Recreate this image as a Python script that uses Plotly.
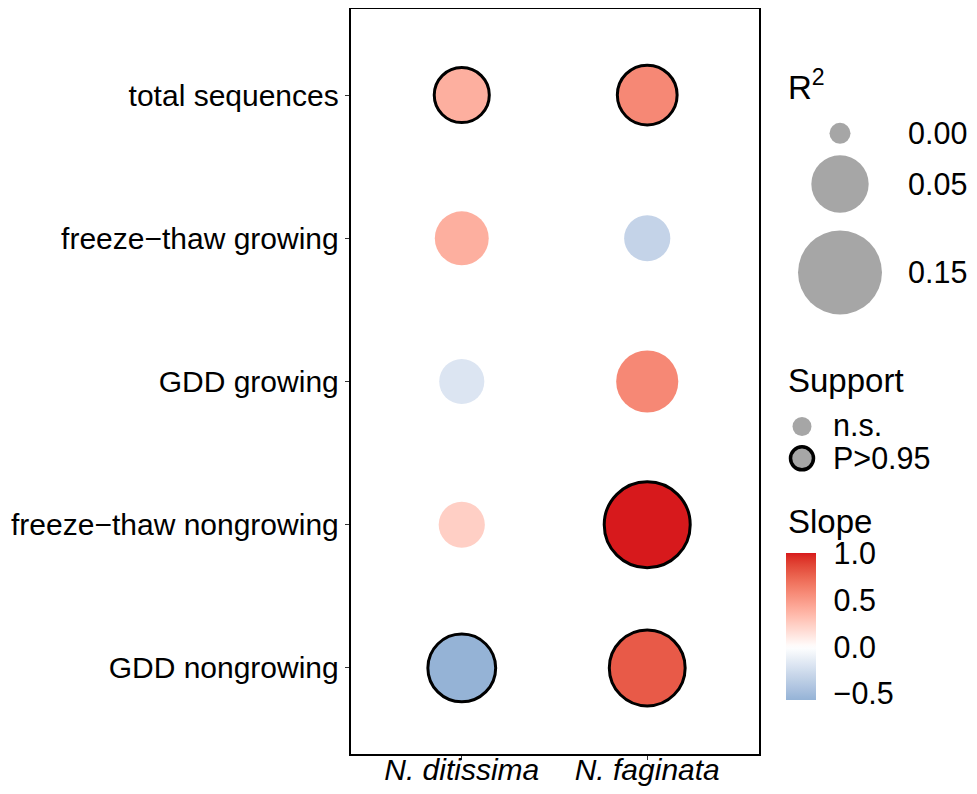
import plotly.graph_objects as go
import numpy as np

# ---------------- data ----------------
variables = ["total sequences", "freeze\u2212thaw growing", "GDD growing",
             "freeze\u2212thaw nongrowing", "GDD nongrowing"]
species = ["N. ditissima", "N. faginata"]

slope_ditissima = [0.40, 0.40, -0.19, 0.24, -0.565]
slope_faginata = [0.59, -0.32, 0.59, 1.01, 0.80]
r2_ditissima = [0.044, 0.041, 0.022, 0.024, 0.083]
r2_faginata = [0.057, 0.024, 0.064, 0.160, 0.114]
sig_ditissima = [True, False, False, False, True]
sig_faginata = [True, False, False, True, True]

r2_breaks = [0.00, 0.05, 0.15]
r2_break_labels = ["0.00", "0.05", "0.15"]
support_labels = ["n.s.", "P>0.95"]
slope_ticks = [-0.5, 0.0, 0.5, 1.0]
slope_tick_labels = ["\u22120.5", "0.0", "0.5", "1.0"]

# ---------------- helpers ----------------
FONT = "Liberation Sans, Arial, Helvetica, sans-serif"
FS_AXIS = 30
FS_LEG = 30.5
FS_TITLE = 33
WIN_W, WIN_H = 977, 794
OFF = 8                      # default page body margin
W, H = WIN_W - OFF, WIN_H - 2 * OFF
S = WIN_H / (H + 24) * 0.993  # vertical fit factor of the page photo


def PX(x):
    return min(max((x - OFF) / W, 0), 1)


def PY(y):
    return min(max(1 - (y / S - OFF) / H, 0), 1)


all_r2 = r2_ditissima + r2_faginata
r2_max = max(all_r2)
DMIN, DMAX = 21.0, 86.0


def size_of(v):
    return DMIN + (DMAX - DMIN) * np.sqrt(max(v, 0) / r2_max)


def hex2rgb(h):
    h = h.lstrip("#")
    return [int(h[i:i + 2], 16) / 255 for i in (0, 2, 4)]


def srgb2lin(c):
    return c / 12.92 if c <= 0.04045 else ((c + 0.055) / 1.055) ** 2.4


def lin2srgb(c):
    c = min(max(c, 0), 1)
    return 12.92 * c if c <= 0.0031308 else 1.055 * c ** (1 / 2.4) - 0.055


WP = (0.95047, 1.0, 1.08883)


def rgb2lab(rgb):
    r, g, b = [srgb2lin(c) for c in rgb]
    X = 0.4124 * r + 0.3576 * g + 0.1805 * b
    Y = 0.2126 * r + 0.7152 * g + 0.0722 * b
    Z = 0.0193 * r + 0.1192 * g + 0.9505 * b
    def f(t):
        return t ** (1 / 3) if t > 0.008856 else 7.787 * t + 16 / 116
    fx, fy, fz = f(X / WP[0]), f(Y / WP[1]), f(Z / WP[2])
    return (116 * fy - 16, 500 * (fx - fy), 200 * (fy - fz))


def lab2rgb(lab):
    L, a, b = lab
    fy = (L + 16) / 116
    fx = fy + a / 500
    fz = fy - b / 200
    def finv(t):
        return t ** 3 if t ** 3 > 0.008856 else (t - 16 / 116) / 7.787
    X, Y, Z = finv(fx) * WP[0], finv(fy) * WP[1], finv(fz) * WP[2]
    r = 3.2406 * X - 1.5372 * Y - 0.4986 * Z
    g = -0.9689 * X + 1.8758 * Y + 0.0415 * Z
    bb = 0.0557 * X - 0.2040 * Y + 1.0570 * Z
    return [lin2srgb(c) for c in (r, g, bb)]


LOW, MID, HIGH = "#2c7bb6", "#ffffff", "#d7191c"
labL, labM, labH = rgb2lab(hex2rgb(LOW)), rgb2lab(hex2rgb(MID)), rgb2lab(hex2rgb(HIGH))

all_slopes = slope_ditissima + slope_faginata
cmin, cmax = min(all_slopes), max(all_slopes)
ext = max(abs(cmin), abs(cmax))


def color_at(v):
    r = v / ext / 2 + 0.5
    if r <= 0.5:
        t = r / 0.5
        lab = [labL[i] + (labM[i] - labL[i]) * t for i in range(3)]
    else:
        t = (r - 0.5) / 0.5
        lab = [labM[i] + (labH[i] - labM[i]) * t for i in range(3)]
    rgb = lab2rgb(lab)
    return "rgb(%d,%d,%d)" % tuple(int(round(c * 255)) for c in rgb)


colorscale = []
N = 40
for i in range(N + 1):
    t = i / N
    colorscale.append([t, color_at(cmin + t * (cmax - cmin))])

# ---------------- figure ----------------
fig = go.Figure()

x_vals, y_vals, c_vals, s_vals, lw_vals = [], [], [], [], []
for j, (sl, r2, sg) in enumerate([(slope_ditissima, r2_ditissima, sig_ditissima),
                                   (slope_faginata, r2_faginata, sig_faginata)]):
    for i, var in enumerate(variables):
        x_vals.append(species[j])
        y_vals.append(var)
        c_vals.append(sl[i])
        s_vals.append(size_of(r2[i]))
        lw_vals.append(3 if sg[i] else 0)

px_left, px_right, px_top, px_bottom = 350.5, 758.5, 8, 757.5
cb_top, cb_bottom = 558, 703
LEG_X0 = 770

fig.add_trace(go.Scatter(
    x=x_vals, y=y_vals, mode="markers", showlegend=False, hoverinfo="skip",
    marker=dict(
        size=s_vals, sizemode="diameter", color=c_vals, colorscale=colorscale,
        cmin=cmin, cmax=cmax, opacity=1,
        line=dict(color="black", width=lw_vals),
        colorbar=dict(
            thickness=30, thicknessmode="pixels",
            len=(cb_bottom - cb_top) / S, lenmode="pixels",
            x=PX(786), xanchor="left", xpad=0,
            y=PY(cb_bottom), yanchor="bottom", ypad=0,
            outlinewidth=0, tickvals=slope_ticks, ticktext=slope_tick_labels,
            ticks="outside", ticklen=12, tickcolor="white", tickwidth=1,
            tickfont=dict(family=FONT, size=FS_LEG, color="black"),
        ),
    ),
))

# legend keys drawn in a small pixel-scaled subplot on the right
leg_y = [133, 184, 273]
fig.add_trace(go.Scatter(
    x=[840] * len(r2_breaks), y=leg_y, xaxis="x2", yaxis="y2", mode="markers",
    marker=dict(size=[size_of(v) for v in r2_breaks], color="#a6a6a6", opacity=1,
                line=dict(width=0)),
    showlegend=False, hoverinfo="skip", cliponaxis=False,
))
fig.add_trace(go.Scatter(
    x=[802, 802], y=[428, 460], xaxis="x2", yaxis="y2", mode="markers",
    marker=dict(size=[19, 23], color="#a6a6a6", opacity=1,
                line=dict(color="black", width=[0, 3.5])),
    showlegend=False, hoverinfo="skip", cliponaxis=False,
))


def ann(text, xpx, ypx, size):
    return dict(text=text, x=PX(xpx), y=PY(ypx), xref="paper", yref="paper",
                xanchor="left", yanchor="middle", showarrow=False,
                font=dict(family=FONT, size=size, color="black"))


annotations = [
    ann("R<sup>2</sup>", 786, 84, FS_TITLE),
    ann("Support", 786, 382, FS_TITLE),
    ann("Slope", 786, 524, FS_TITLE),
]
for lab, yy in zip(r2_break_labels, leg_y):
    annotations.append(ann(lab, 906, yy, FS_LEG))
for lab, yy in zip(support_labels, [427, 460]):
    annotations.append(ann(lab, 831, yy, FS_LEG))

# white dashes inside the colour bar at the tick values (as in the reference)
cb_span = cb_bottom - cb_top
shapes = []
for tv in slope_ticks:
    ypx = cb_bottom - (tv - cmin) / (cmax - cmin) * cb_span
    for x0, x1 in ((786, 791), (811, 816)):
        shapes.append(dict(type="line", xref="paper", yref="paper",
                           x0=PX(x0), x1=PX(x1), y0=PY(ypx), y1=PY(ypx),
                           line=dict(color="rgba(255,255,255,0.8)", width=1)))

fig.update_layout(
    width=W, height=H,
    margin=dict(l=0, r=0, t=0, b=0),
    paper_bgcolor="white", plot_bgcolor="white",
    font=dict(family=FONT, size=FS_AXIS, color="black"),
    xaxis=dict(
        domain=[PX(px_left), PX(px_right)],
        type="category", categoryorder="array", categoryarray=species,
        range=[-0.6, 1.6], showgrid=False, zeroline=False,
        showline=True, linecolor="black", linewidth=1.5, mirror=True,
        ticks="outside", ticklen=4, tickcolor="#333333", tickwidth=1,
        tickvals=species, ticktext=["<i>N. ditissima</i>", "<i>N. faginata</i>"],
        tickfont=dict(family=FONT, size=FS_AXIS, color="black"),
        ticklabelstandoff=-16,
        fixedrange=True,
    ),
    yaxis=dict(
        domain=[PY(px_bottom), PY(px_top)],
        type="category", categoryorder="array", categoryarray=variables[::-1],
        range=[-0.6, 4.6], showgrid=False, zeroline=False,
        showline=True, linecolor="black", linewidth=1.5, mirror=True,
        ticks="outside", ticklen=4, tickcolor="#333333", tickwidth=1,
        tickfont=dict(family=FONT, size=FS_AXIS, color="black"),
        fixedrange=True,
    ),
    xaxis2=dict(domain=[PX(LEG_X0), 1], range=[LEG_X0, WIN_W], visible=False, fixedrange=True),
    yaxis2=dict(domain=[0, 1], range=[(OFF + H) * S, OFF * S], visible=False, fixedrange=True),
    shapes=shapes,
    annotations=annotations,
)

fig.write_html("out.html")
